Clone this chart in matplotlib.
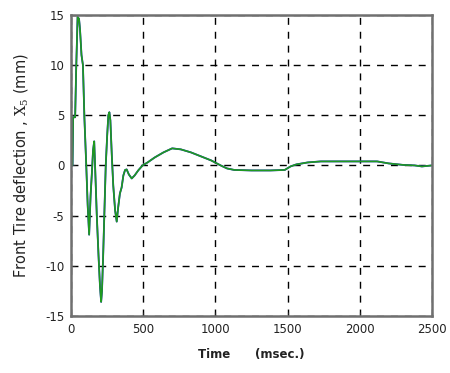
import matplotlib
matplotlib.use("Agg")
import matplotlib.pyplot as plt

time_ms = [0, 10, 14, 28, 35, 45, 55, 62, 72, 82, 92, 105, 115, 125, 135, 145, 152, 160, 166,
           178, 190, 200, 208, 214, 222, 232, 240, 250, 258, 265, 272, 282, 292, 305, 316, 326,
           338, 350, 362, 374, 385, 400, 420, 440, 465, 495, 530, 580, 640, 700, 760, 830, 900,
           970, 1036, 1080, 1130, 1250, 1380, 1480, 1520, 1560, 1640, 1730, 1900, 2120, 2200,
           2300, 2380, 2430, 2500]
deflection = [0, 0, 4.8, 4.8, 9.5, 14.8, 14.6, 13.5, 11, 10, 4.8, 0, -4, -6.9, -3, -0.5, 1.5, 2.4, 0,
              -5, -9, -12, -13.6, -12.5, -9, -4, 0, 3, 5, 5.3, 4.5, 1, -2, -4.5, -5.6, -4.2,
              -2.8, -2.2, -1, -0.45, -0.4, -0.9, -1.3, -1.0, -0.5, 0, 0.3, 0.8, 1.3, 1.7, 1.6, 1.3, 0.9,
              0.5, 0, -0.3, -0.45, -0.5, -0.5, -0.45, -0.1, 0.1, 0.3, 0.4, 0.4, 0.4, 0.2,
              0.05, 0.0, -0.1, 0]

xticks = [0, 500, 1000, 1500, 2000, 2500]
yticks = [-15, -10, -5, 0, 5, 10, 15]

plt.rcParams['font.family'] = ['DejaVu Sans']
plt.rcParams['mathtext.fontset'] = 'dejavuserif'
plt.rcParams['axes.unicode_minus'] = False

fig = plt.figure(figsize=(4.5, 3.73), dpi=100)
ax = fig.add_axes([0.158, 0.153, 0.802, 0.807])

ax.plot(time_ms, deflection, color='#2020d0', lw=1.3, zorder=3)
ax.plot(time_ms, deflection, color='#1f9a1f', lw=1.2, zorder=4)

ax.set_xlim(0, 2500)
ax.set_ylim(-15, 15)
ax.set_xticks(xticks)
ax.set_yticks(yticks)
ax.tick_params(direction='in', length=3, labelsize=8.5, colors='#222222', pad=5)
ax.grid(True, color='black', linestyle=(0, (5, 5)), linewidth=1.0)
for s in ax.spines.values():
    s.set_color('#707070')
    s.set_linewidth(1.8)
    s.set_zorder(10)

ax.set_xlabel('Time      (msec.)', fontsize=8.5, fontweight='bold', color='#222222', labelpad=9)
ax.set_ylabel(r'Front Tire deflection , $\mathrm{X}_5$ (mm)', fontsize=10.5, color='#222222', labelpad=11)

fig.savefig('out.png', dpi=100)
